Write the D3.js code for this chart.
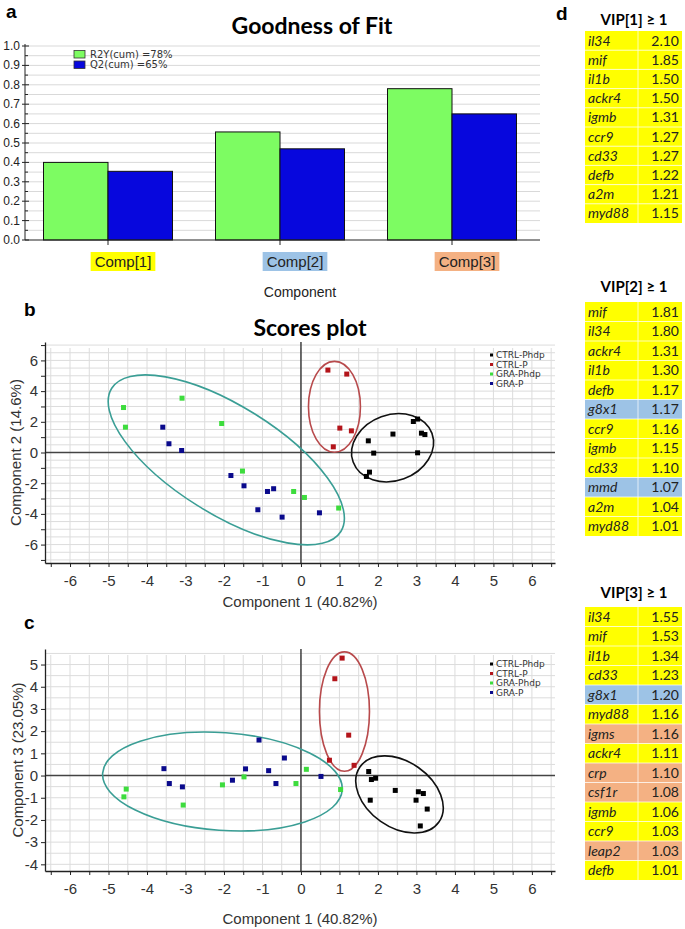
<!DOCTYPE html>
<html><head><meta charset="utf-8">
<script src="https://cdn.jsdelivr.net/npm/d3@7/dist/d3.min.js"></script>
<style>
body{margin:0;background:#fff}
svg{display:block}
text{font-family:"Liberation Sans",Arial,sans-serif}
</style>
</head><body>
<svg id="chart" width="685" height="929"></svg>
<script>
// ---------- Panel a data ----------
const components = ["Comp[1]", "Comp[2]", "Comp[3]"];
const componentLabelColors = ["#ffff00", "#9dc3e6", "#f4b183"];
const r2yCum = [0.40, 0.557, 0.78];
const q2Cum = [0.354, 0.47, 0.65];
const fitSeries = ["R2Y(cum) =78%", "Q2(cum) =65%"];
const fitColors = ["#7dfc62", "#0707dd"];
const fitTicks = [0, 0.1, 0.2, 0.3, 0.4, 0.5, 0.6, 0.7, 0.8, 0.9, 1.0];

// ---------- Panel b / c data ----------
const groups = ["CTRL-Phdp", "CTRL-P", "GRA-Phdp", "GRA-P"];
const groupColors = ["#000000", "#b3141a", "#3ddc3d", "#0a0a8c"];

const scoresB_ctrlPhdp = [[2.92,2.02],[3.03,2.18],[2.39,1.20],[3.13,1.26],[3.22,1.17],[1.75,0.76],[1.89,-0.04],[3.03,-0.02],[1.78,-1.28],[1.70,-1.56]];
const scoresB_ctrlP = [[0.70,5.37],[1.19,5.11],[1.01,1.59],[1.31,1.41],[0.84,0.37]];
const scoresB_graPhdp = [[-4.61,2.93],[-4.56,1.65],[-3.09,3.54],[-2.06,1.89],[-1.52,-1.21],[-0.19,-2.54],[0.09,-2.93],[0.98,-3.62]];
const scoresB_graP = [[-3.59,1.65],[-3.43,0.57],[-3.10,0.13],[-1.82,-1.50],[-1.48,-2.17],[-0.87,-2.54],[-0.71,-2.36],[-1.12,-3.73],[-0.49,-4.21],[0.48,-3.93]];

const scoresC_ctrlPhdp = [[1.76,0.18],[1.83,-0.18],[1.94,-0.12],[2.45,-0.67],[3.05,-0.73],[3.18,-0.81],[2.99,-1.11],[1.80,-1.11],[3.28,-1.51],[3.10,-2.27]];
const scoresC_ctrlP = [[1.07,5.29],[0.88,4.36],[1.24,1.82],[0.74,0.69],[1.38,0.46]];
const scoresC_graPhdp = [[-4.54,-0.61],[-4.60,-0.96],[-3.06,-1.33],[-2.04,-0.42],[-1.48,-0.06],[0.14,0.28],[-0.13,-0.36],[1.03,-0.63]];
const scoresC_graP = [[-3.56,0.31],[-3.42,-0.36],[-3.08,-0.51],[-1.78,-0.21],[-1.44,0.30],[-1.09,1.60],[-0.84,0.22],[-0.65,-0.36],[-0.43,0.79],[0.52,-0.04]];

// ellipses: [centerX, centerY, radiusX (x units), radiusY (y units), rotation deg]
const ellipsesB = [[-1.94,-0.48,3.51,3.52,32],[0.87,2.98,0.675,2.96,0],[2.38,0.31,1.09,2.15,-20]];
const ellipsesC = [[-2.04,-0.27,3.12,2.2,4],[1.13,2.88,0.65,2.69,0],[2.56,-0.85,1.25,1.48,35]];
const ellipseColors = ["#3a9e95", "#b84a4c", "#111111"];

const scoreXTicks = [-6,-5,-4,-3,-2,-1,0,1,2,3,4,5,6];
const scoreBYTicks = [-6,-4,-2,0,2,4,6];
const scoreCYTicks = [-4,-3,-2,-1,0,1,2,3,4,5];

// ---------- Panel d data ----------
const vip1Genes = ["il34","mif","il1b","ackr4","igmb","ccr9","cd33","defb","a2m","myd88"];
const vip1Values = ["2.10","1.85","1.50","1.50","1.31","1.27","1.27","1.22","1.21","1.15"];
const vip1Hl = ["y","y","y","y","y","y","y","y","y","y"];
const vip2Genes = ["mif","il34","ackr4","il1b","defb","g8x1","ccr9","igmb","cd33","mmd","a2m","myd88"];
const vip2Values = ["1.81","1.80","1.31","1.30","1.17","1.17","1.16","1.15","1.10","1.07","1.04","1.01"];
const vip2Hl = ["y","y","y","y","y","b","y","y","y","b","y","y"];
const vip3Genes = ["il34","mif","il1b","cd33","g8x1","myd88","igms","ackr4","crp","csf1r","igmb","ccr9","leap2","defb"];
const vip3Values = ["1.55","1.53","1.34","1.23","1.20","1.16","1.16","1.11","1.10","1.08","1.06","1.03","1.03","1.01"];
const vip3Hl = ["y","y","y","y","b","y","o","y","o","o","y","y","o","y"];
const hlColors = {y:"#ffff00", b:"#9dc3e6", o:"#f4b183"};

const svg = d3.select("#chart");

// panel letters
const letters = [["a",6,18],["b",24,316],["c",24,629],["d",556,20]];
svg.selectAll("text.letter").data(letters).enter().append("text")
  .attr("class","letter").attr("x",d=>d[1]).attr("y",d=>d[2])
  .style("font-weight","bold").style("font-size","19px").text(d=>d[0]);

// ================= Panel a =================
(function(){
  const g = svg.append("g");
  const x = d3.scaleBand().domain(components).range([22,538]).paddingInner(0.25).paddingOuter(0.125);
  const xs = d3.scaleBand().domain([0,1]).range([0,x.bandwidth()]);
  const y = d3.scaleLinear().domain([0,1]).range([240,46]);
  const right = 540;
  g.selectAll("line.grid").data(d3.range(0.05,1.001,0.05)).enter().append("line")
    .attr("x1",26).attr("x2",right).attr("y1",d=>y(d)).attr("y2",d=>y(d))
    .attr("stroke","#d9d9d9").attr("stroke-width",1);
  g.append("text").attr("x",312).attr("y",34).attr("text-anchor","middle")
    .style("font-family","Lato, 'Open Sans', sans-serif").style("font-weight","bold").style("font-size","23px")
    .text("Goodness of Fit");
  components.forEach((c,i)=>{
    [r2yCum[i], q2Cum[i]].forEach((v,j)=>{
      g.append("rect").attr("x",x(c)+xs(j)).attr("width",xs.bandwidth())
        .attr("y",y(v)).attr("height",y(0)-y(v))
        .attr("fill",fitColors[j]).attr("stroke","#111").attr("stroke-width",1);
    });
  });
  g.append("line").attr("x1",25).attr("x2",25).attr("y1",y(1)-2).attr("y2",y(0)).attr("stroke","#222");
  g.append("line").attr("x1",25).attr("x2",right).attr("y1",y(0)).attr("y2",y(0)).attr("stroke","#222");
  g.selectAll("line.ytick").data(fitTicks).enter().append("line")
    .attr("x1",22).attr("x2",29).attr("y1",d=>y(d)).attr("y2",d=>y(d)).attr("stroke","#222");
  g.selectAll("line.ymtick").data(d3.range(0.05,1,0.1)).enter().append("line")
    .attr("x1",25).attr("x2",28).attr("y1",d=>y(d)).attr("y2",d=>y(d)).attr("stroke","#222");
  g.selectAll("text.ylab").data(fitTicks).enter().append("text")
    .attr("x",20).attr("y",d=>y(d)+4).attr("text-anchor","end").style("font-size","12px").attr("fill","#222")
    .text(d=>d3.format(".1f")(d));
  g.selectAll("line.xtick").data(components).enter().append("line")
    .attr("x1",d=>x(d)+x.bandwidth()/2).attr("x2",d=>x(d)+x.bandwidth()/2)
    .attr("y1",y(0)).attr("y2",y(0)+5).attr("stroke","#222");
  components.forEach((c,i)=>{
    const cx = x(c)+x.bandwidth()/2+15;
    const t = g.append("text").attr("x",cx).attr("y",267).attr("text-anchor","middle")
      .style("font-size","15px").attr("fill","#222").text(c);
    const bb = t.node().getBBox();
    g.insert("rect","text").attr("x",bb.x-4).attr("y",252).attr("width",bb.width+8).attr("height",19)
      .attr("fill",componentLabelColors[i]);
  });
  g.append("text").attr("x",300).attr("y",297).attr("text-anchor","middle").style("font-size","14px").attr("fill","#222").text("Component");
  fitSeries.forEach((s,i)=>{
    g.append("rect").attr("x",74).attr("y",50.5+i*10.5).attr("width",11).attr("height",7.5)
      .attr("fill",fitColors[i]).attr("stroke","#333").attr("stroke-width",0.8);
    g.append("text").attr("x",90).attr("y",57.5+i*10.5).style("font-family","'DejaVu Sans',sans-serif")
      .style("font-size","10px").attr("fill","#333").text(s);
  });
})();

// ================= Score plots =================
function scorePlot(opts){
  const g = svg.append("g");
  const x = d3.scaleLinear().domain([-6.65,6.6]).range([45,555]);
  const y = d3.scaleLinear().domain(opts.yDomain).range([opts.bottom, opts.top]);
  const [xmin,xmax] = x.domain(), [ymin,ymax] = y.domain();
  const vx = d3.range(Math.ceil(xmin*2)/2, xmax+0.001, 0.5);
  const hy = d3.range(Math.ceil(ymin*2)/2, ymax+0.001, 0.5);
  g.selectAll("line.vg").data(vx).enter().append("line")
    .attr("x1",d=>x(d)).attr("x2",d=>x(d)).attr("y1",y(ymax)+6).attr("y2",y(ymin))
    .attr("stroke","#dcdcdc");
  g.selectAll("line.hg").data(hy).enter().append("line")
    .attr("x1",x(xmin)).attr("x2",x(xmax)).attr("y1",d=>y(d)).attr("y2",d=>y(d))
    .attr("stroke","#dcdcdc");
  g.append("line").attr("x1",x(0)).attr("x2",x(0)).attr("y1",y(ymax)).attr("y2",y(ymin)).attr("stroke","#333").attr("stroke-width",1.4);
  g.append("line").attr("x1",x(xmin)).attr("x2",x(xmax)).attr("y1",y(0)).attr("y2",y(0)).attr("stroke","#444").attr("stroke-width",1.4);
  const xAxis = d3.axisBottom(x).tickValues(d3.range(Math.ceil(xmin*2)/2, xmax+0.001, 0.5))
    .tickSize(4).tickSizeOuter(0).tickFormat(d=>scoreXTicks.includes(d)? String(d) : "");
  const ax = g.append("g").attr("transform",`translate(0,${y(ymin)})`).call(xAxis);
  ax.select(".domain").attr("stroke","#222").attr("stroke-width",1.3);
  ax.selectAll(".tick line").attr("stroke","#222");
  ax.selectAll(".tick text").attr("dy",null).attr("y",23).style("font-size","15px").style("font-family","'Liberation Sans',Arial").attr("fill","#333");
  const yAxis = d3.axisLeft(y).tickValues(d3.range(Math.ceil(ymin), Math.floor(ymax)+1, 1))
    .tickSize(4).tickSizeOuter(0).tickFormat(d=>opts.yTicks.includes(d)? String(d) : "");
  const ay = g.append("g").attr("transform",`translate(${x(xmin)},0)`).call(yAxis);
  ay.select(".domain").attr("stroke","#222").attr("stroke-width",1.3);
  ay.selectAll(".tick line").attr("stroke","#222");
  ay.selectAll(".tick text").attr("x",-7).style("font-size","15px").style("font-family","'Liberation Sans',Arial").attr("fill","#333");
  g.append("text").attr("x",300).attr("y",opts.xLabelY).attr("text-anchor","middle").style("font-size","15px").attr("fill","#333").text("Component 1 (40.82%)");
  g.append("text").attr("transform",`translate(${opts.yLabelX},${(y(ymin)+y(ymax))/2}) rotate(-90)`)
    .attr("text-anchor","middle").style("font-size","15px").attr("fill","#333").text(opts.yLabel);
  if(opts.title){
    g.append("text").attr("x",310).attr("y",opts.titleY).attr("text-anchor","middle")
      .style("font-family","Lato, 'Open Sans', sans-serif").style("font-weight","bold").style("font-size","23px").text(opts.title);
  }
  opts.ellipses.forEach((e,i)=>{
    const cx = x(e[0]), cy = y(e[1]);
    g.append("ellipse").attr("cx",cx).attr("cy",cy)
      .attr("rx",Math.abs(x(e[2])-x(0))).attr("ry",Math.abs(y(0)-y(e[3])))
      .attr("transform",`rotate(${e[4]},${cx},${cy})`)
      .attr("fill","none").attr("stroke",ellipseColors[i]).attr("stroke-width",1.6);
  });
  opts.series.forEach((pts,i)=>{
    g.selectAll(null).data(pts).enter().append("rect")
      .attr("x",d=>x(d[0])-2.5).attr("y",d=>y(d[1])-2.5).attr("width",5).attr("height",5)
      .attr("fill",groupColors[i]);
  });
  groups.forEach((s,i)=>{
    const ly = opts.legendY + i*9.5;
    g.append("rect").attr("x",490).attr("y",ly-1.5).attr("width",3).attr("height",3).attr("fill",groupColors[i]);
    g.append("text").attr("x",496).attr("y",ly+3.3).style("font-family","'DejaVu Sans',sans-serif")
      .style("font-size","9px").attr("fill","#333").text(s);
  });
}

scorePlot({yDomain:[-7.2,7.2], top:342, bottom:563, yTicks:scoreBYTicks, yLabel:"Component 2 (14.6%)",
  yLabelX:21, xLabelY:607, title:"Scores plot", titleY:336, ellipses:ellipsesB,
  series:[scoresB_ctrlPhdp, scoresB_ctrlP, scoresB_graPhdp, scoresB_graP], legendY:355});
scorePlot({yDomain:[-4.3,5.7], top:649, bottom:871, yTicks:scoreCYTicks, yLabel:"Component 3 (23.05%)",
  yLabelX:23, xLabelY:924, title:null, ellipses:ellipsesC,
  series:[scoresC_ctrlPhdp, scoresC_ctrlP, scoresC_graPhdp, scoresC_graP], legendY:664});

// ================= Panel d tables =================
function vipTable(title, genes, values, hl, titleY, top, rowH){
  const g = svg.append("g");
  const left = 585, right = 682, mid = 638;
  const y = d3.scaleBand().domain(d3.range(genes.length)).range([top, top+rowH*genes.length]);
  g.append("text").attr("x",634).attr("y",titleY).attr("text-anchor","middle")
    .style("font-family","Lato, 'Open Sans', sans-serif").style("font-weight","bold").style("font-size","15px").text(title);
  g.selectAll("rect.cell").data(genes).enter().append("rect")
    .attr("x",left).attr("y",(d,i)=>y(i)).attr("width",right-left).attr("height",y.bandwidth())
    .attr("fill",(d,i)=>hlColors[hl[i]]);
  g.selectAll("line.sep").data(d3.range(1,genes.length)).enter().append("line")
    .attr("x1",left).attr("x2",right).attr("y1",i=>y(i)).attr("y2",i=>y(i)).attr("stroke","#ffffff").attr("stroke-opacity",0.7);
  g.append("line").attr("x1",mid).attr("x2",mid).attr("y1",top).attr("y2",top+rowH*genes.length).attr("stroke","#ffffff").attr("stroke-opacity",0.7);
  g.selectAll("text.gene").data(genes).enter().append("text")
    .attr("x",left+3).attr("y",(d,i)=>y(i)+y.bandwidth()/2+5)
    .style("font-family","Lato, 'Open Sans', sans-serif").style("font-style","italic").style("font-size","14px").attr("fill","#222").text(d=>d);
  g.selectAll("text.val").data(values).enter().append("text")
    .attr("x",right-3).attr("y",(d,i)=>y(i)+y.bandwidth()/2+5).attr("text-anchor","end")
    .style("font-family","Lato, 'Open Sans', sans-serif").style("font-size","14px").attr("fill","#222").text(d=>d);
}
vipTable("VIP[1] \u2265 1", vip1Genes, vip1Values, vip1Hl, 25, 31, 19.2);
vipTable("VIP[2] \u2265 1", vip2Genes, vip2Values, vip2Hl, 292, 302, 19.5);
vipTable("VIP[3] \u2265 1", vip3Genes, vip3Values, vip3Hl, 598, 607, 19.5);
</script>
</body></html>
